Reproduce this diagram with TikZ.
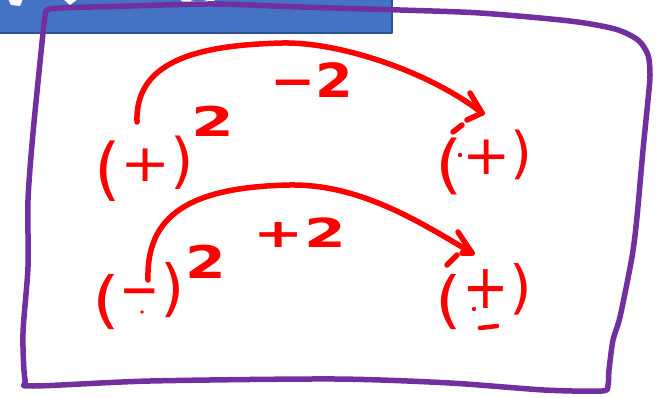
\documentclass[tikz,border=0pt]{standalone}
\usepackage{fontspec}
\usetikzlibrary{calc}
\newfontfamily\hwfont{DejaVu Sans}
\definecolor{boxpurple}{RGB}{112,48,160}
\definecolor{titleblue}{RGB}{68,114,196}
\definecolor{titleedge}{RGB}{47,82,143}
% size, raise, xscale, character
\newcommand\hwglyph[4]{\raisebox{#2pt}{\fontsize{#1}{#1}\selectfont\scalebox{#3}[1]{#4}}}
\newcommand\hwbold[4]{\raisebox{#2pt}{\bfseries\fontsize{#1}{#1}\selectfont\scalebox{#3}[1]{#4}}}
\begin{document}
\begin{tikzpicture}[x=1pt,y=-1pt,line cap=round,line join=round,
  glyph/.style={text=red,inner sep=0pt,outer sep=0pt,font=\hwfont},
  grp/.style={glyph,anchor=base west},
  gb/.style={font=\hwfont\bfseries\fontsize{#1}{#1}\selectfont},
  ink/.style={draw=red,line width=5.5},
  frame/.style={draw=boxpurple,line width=5.5},
  speck/.style={fill=red}]
\useasboundingbox (0,0) rectangle (669,398);
% title banner (cut off)
\fill[titleblue,draw=titleedge,line width=1.5] (-5,-5) rectangle (392,33);
\fill[white] (8,-1) -- (23,-1) -- (20,6) -- (11,5) -- cycle;
\fill[white] (63,-1) -- (78,-1) -- (70,5) -- cycle;
\draw[white,line width=5] (180,-4) .. controls (188,6) and (205,6) .. (212,0);
% hand-drawn frame
\draw[frame] plot[smooth cycle,tension=0.45] coordinates {
 (47,10) (60,8) (130,6) (213,4) (300,7) (400,10) (480,13) (570,21) (615,29)
 (638,40) (648,55) (650,75) (648,100) (643,150) (637,217) (632,257) (620,317)
 (613,340) (609,370) (608,385) (602,391) (544,390) (450,383) (335,379) (150,381)
 (33,386) (25,380) (23,333) (28,267) (28,200) (33,133) (43,33) (45,16)};
% top row
\node[grp] (g1) at (94,193)
  {\hwglyph{68}{0}{1}{(}\hwglyph{52}{11.7}{1.15}{+}\hwglyph{60}{11}{1}{)}};
\node[glyph,gb=41,xscale=1.5] (sq1) at (213,121) {2};
\node[glyph,gb=47,xscale=1.15] (lab1) at (312,80) {−2};
\node[grp] (g2) at (435,187)
  {\hwglyph{64}{0}{1.1}{(}\hwglyph{55}{12}{1.05}{+}\hwglyph{56}{14.4}{1}{)}};
\fill[speck] (460,155) circle (2.2);
% bottom row
\node[grp] (g3) at (92,321)
  {\hwglyph{62}{0}{1.15}{(}\hwbold{42}{16.4}{1.15}{−}\hwglyph{62}{11.5}{1}{)}};
\node[glyph,gb=45,xscale=1.3] (sq3) at (206,262) {2};
\fill[speck] (142,312) circle (1.8);
\node[glyph,gb=40,xscale=1.5] (lab2) at (300,233) {+2};
\node[grp] (g4) at (435.7,321)
  {\hwglyph{62}{0}{1.1}{(}\hwglyph{62}{12.5}{0.9}{+}\hwglyph{58}{13.7}{1}{)}};
\fill[speck] (474,309) circle (2.2);
\draw[ink,line width=4.5] (480,328) -- (497,326);
% arrows
\coordinate (s1) at (137,122);
\coordinate (m1) at (283,43);
\coordinate (e1) at (482,113);
\draw[ink] (s1) .. controls (135,62) and (195,45) .. (m1)
  .. controls (340,42) and (430,72) .. (e1);
\draw[ink] (e1) -- ++(-12,-20);
\draw[ink] (e1) -- ++(-15,7);
\draw[ink] ($(e1)+(-20,12)$) -- ++(-9,7);
\coordinate (s2) at (148,280);
\coordinate (m2) at (290,185);
\coordinate (e2) at (472,253);
\draw[ink] (s2) .. controls (146,215) and (190,187) .. (m2)
  .. controls (360,184) and (420,222) .. (e2);
\draw[ink] (e2) -- ++(-14,-21);
\draw[ink] (e2) -- ++(-10,0);
\draw[ink] ($(e2)+(-15,2)$) -- ++(-10,10);
\end{tikzpicture}
\end{document}
